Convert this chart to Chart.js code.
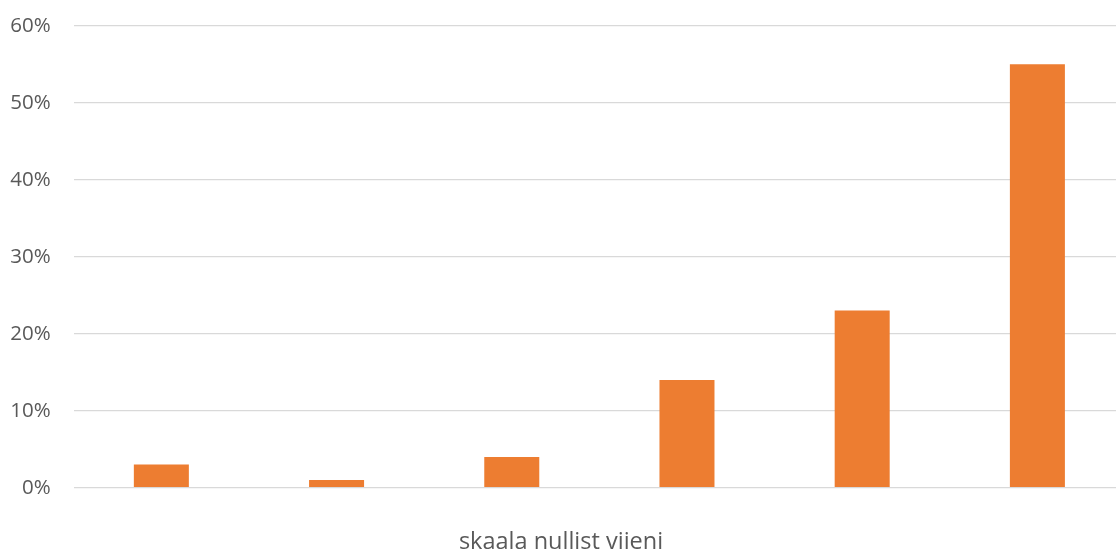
<!DOCTYPE html>
<html>
<head>
<meta charset="utf-8">
<script src="https://cdn.jsdelivr.net/npm/chart.js@4"></script>
<style>
  html, body { margin: 0; padding: 0; background: #ffffff; overflow: hidden; }
  #wrap { position: relative; width: 1125px; height: 551px; }
</style>
</head>
<body>
<div id="wrap"><canvas id="c"></canvas></div>
<script>
const categories = ['0', '1', '2', '3', '4', '5'];
const values = [3, 1, 4, 14, 23, 55];
const yTickValues = [0, 10, 20, 30, 40, 50, 60];
const axisTitle = 'skaala nullist viieni';

const textColor = '#595959';
const fontFamily = '"Open Sans", "Noto Sans", sans-serif';

const bottomTitle = {
  id: 'bottomTitle',
  afterDraw(chart) {
    const ctx = chart.ctx;
    ctx.save();
    ctx.fillStyle = textColor;
    ctx.font = '23.5px ' + fontFamily;
    ctx.textAlign = 'center';
    ctx.textBaseline = 'alphabetic';
    ctx.fillText(axisTitle, 561, 549);
    ctx.restore();
  }
};

new Chart(document.getElementById('c'), {
  type: 'bar',
  data: {
    labels: categories,
    datasets: [{
      data: values,
      backgroundColor: '#ED7D31',
      borderWidth: 0,
      barPercentage: 0.314,
      categoryPercentage: 1.0
    }]
  },
  options: {
    responsive: true,
    maintainAspectRatio: false,
    animation: false,
    layout: { padding: { top: 25.7, bottom: 63.3, left: 0, right: 0 } },
    plugins: {
      legend: { display: false },
      tooltip: { enabled: false },
      title: { display: false }
    },
    scales: {
      x: {
        grid: { display: false },
        border: { display: false },
        ticks: { display: false },
        afterFit(scale) { scale.height = 0; }
      },
      y: {
        min: 0,
        max: 60,
        afterBuildTicks(scale) { scale.ticks = yTickValues.map(v => ({ value: v })); },
        grid: { color: '#d9d9d9', lineWidth: 1.3, drawTicks: false },
        border: { display: false },
        ticks: {
          padding: 23,
          color: textColor,
          font: { family: fontFamily, size: 20.5 },
          callback: v => v + '%'
        },
        afterFit(scale) {
          scale.width = 73.75;
          scale.paddingTop = 0;
          scale.paddingBottom = 0;
        }
      }
    }
  },
  plugins: [bottomTitle]
});
</script>
</body>
</html>
